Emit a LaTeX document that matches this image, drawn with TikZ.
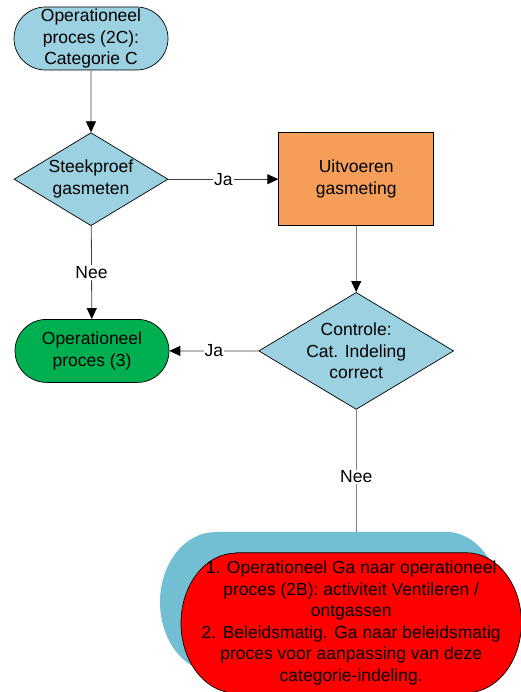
\documentclass[tikz,border=0pt]{standalone}
\usepackage{fontspec}
\setmainfont{Liberation Sans}
\usepackage{tikz}
\usetikzlibrary{arrows.meta,positioning,shapes.geometric,shapes.misc,backgrounds}
\usepackage{xcolor}

\definecolor{procblue}{RGB}{155,209,224}
\definecolor{stepblue}{RGB}{114,191,211}
\definecolor{measorange}{RGB}{245,158,90}
\definecolor{okgreen}{RGB}{0,176,80}

% stadium with elliptic ends round a node
\newcommand{\stadiumpath}[1]{([xshift=55pt]#1.north west) -- ([xshift=-55pt]#1.north east)
    arc[start angle=90, end angle=-90, x radius=55pt, y radius=70pt]
    -- ([xshift=55pt]#1.south west)
    arc[start angle=270, end angle=90, x radius=55pt, y radius=70pt] -- cycle}

\begin{document}
\begin{tikzpicture}[
    x=1pt, y=1pt,
    txt/.style={
        font=\fontsize{17.5}{21.5}\selectfont
    },
    term/.style={
        rounded rectangle, draw=black, txt,
        minimum width=154pt, minimum height=63pt,
        inner sep=0pt, align=center, line width=0.7pt
    },
    decision/.style={
        diamond, draw=black, fill=procblue, txt,
        aspect=1.66, inner sep=0pt, align=center, line width=0.7pt
    },
    block/.style={
        rectangle, draw=black, fill=measorange, txt,
        minimum width=155pt, minimum height=93pt,
        align=center, line width=0.7pt
    },
    arrow/.style={
        -{Triangle[length=11pt, width=10pt, color=black]},
        line width=0.8pt, color=black!75
    },
    lbl/.style={
        txt, text=black, fill=white, inner sep=1pt, midway
    }
]
\useasboundingbox (0,0) rectangle (520,-692);

% Nodes
\node[term, fill=procblue] (start) at (91,-38.5) {Operationeel\\proces (2C):\\Categorie C};
\node[decision, minimum width=154pt, minimum height=93pt, below=62pt of start] (sample) {Steekproef\\gasmeten};
\node[block, right=110pt of sample] (measure) {Uitvoeren\\gasmeting};
\node[decision, minimum width=195pt, minimum height=117pt, below=66pt of measure] (check) {Controle:\\Cat. Indeling\\correct};
\node[term, fill=okgreen, left=89pt of check] (done) {Operationeel\\proces (3)};
\node[txt, align=center, minimum width=340pt, minimum height=140pt, inner sep=0pt,
      below=143pt of check, xshift=-5pt] (fix)
    {1. Operationeel Ga naar operationeel\\proces (2B): activiteit Ventileren /\\ontgassen\\2. Beleidsmatig. Ga naar beleidsmatig\\proces voor aanpassing van deze\\categorie-indeling.};
\node[minimum width=340pt, minimum height=140pt, inner sep=0pt] (back)
    at ([shift={(-21pt,21pt)}]fix.center) {};

% Bounding shapes
\begin{scope}[on background layer]
    \fill[stepblue] \stadiumpath{back};
    \filldraw[fill=red, draw=black, line width=0.7pt] \stadiumpath{fix};
\end{scope}

% Arrows
\draw[arrow] (start) -- (sample);
\draw[arrow] (sample) -- node[lbl] {Ja} (measure);
\draw[arrow, color=black!50] (measure) -- (check);
\draw[arrow] (sample) -- node[lbl] {Nee} (done);
\draw[arrow] (check) -- node[lbl] {Ja} (done);
\draw[line width=0.8pt, color=black!50] (check) -- node[lbl, pos=0.55] {Nee} (check |- back.north);

\end{tikzpicture}
\end{document}
